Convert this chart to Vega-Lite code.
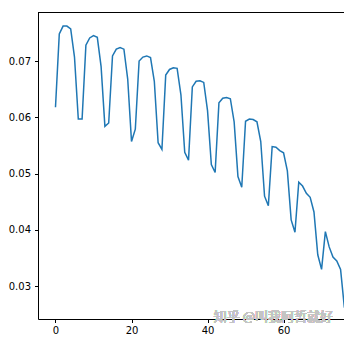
{
  "$schema": "https://vega.github.io/schema/vega-lite/v6.json",
  "width": 306,
  "height": 307,
  "autosize": {"type": "none"},
  "padding": {"left": 38, "top": 12, "right": 0, "bottom": 19},
  "background": "white",
  "config": {
    "view": {"stroke": null},
    "axis": {
      "grid": false,
      "domainColor": "#000000",
      "domainWidth": 1,
      "tickColor": "#000000",
      "tickSize": 3.5,
      "tickWidth": 1,
      "labelFont": "DejaVu Sans",
      "labelFontSize": 10,
      "labelColor": "#000000",
      "title": null
    }
  },
  "data": {
    "values": [
      {"step": 0, "value": 0.0618}, {"step": 1, "value": 0.0748}, {"step": 2, "value": 0.0762}, {"step": 3, "value": 0.0762},
      {"step": 4, "value": 0.0757}, {"step": 5, "value": 0.0707}, {"step": 6, "value": 0.0597}, {"step": 7, "value": 0.0597},
      {"step": 8, "value": 0.0728}, {"step": 9, "value": 0.0741}, {"step": 10, "value": 0.0745}, {"step": 11, "value": 0.0742},
      {"step": 12, "value": 0.0690}, {"step": 13, "value": 0.0584}, {"step": 14, "value": 0.0590}, {"step": 15, "value": 0.0709},
      {"step": 16, "value": 0.0721}, {"step": 17, "value": 0.0724}, {"step": 18, "value": 0.0721}, {"step": 19, "value": 0.0668},
      {"step": 20, "value": 0.0557}, {"step": 21, "value": 0.0579}, {"step": 22, "value": 0.0700}, {"step": 23, "value": 0.0707},
      {"step": 24, "value": 0.0709}, {"step": 25, "value": 0.0706}, {"step": 26, "value": 0.0664}, {"step": 27, "value": 0.0555},
      {"step": 28, "value": 0.0543}, {"step": 29, "value": 0.0675}, {"step": 30, "value": 0.0685}, {"step": 31, "value": 0.0688},
      {"step": 32, "value": 0.0687}, {"step": 33, "value": 0.0640}, {"step": 34, "value": 0.0538}, {"step": 35, "value": 0.0524},
      {"step": 36, "value": 0.0654}, {"step": 37, "value": 0.0664}, {"step": 38, "value": 0.0665}, {"step": 39, "value": 0.0662},
      {"step": 40, "value": 0.0612}, {"step": 41, "value": 0.0516}, {"step": 42, "value": 0.0502}, {"step": 43, "value": 0.0626},
      {"step": 44, "value": 0.0634}, {"step": 45, "value": 0.0635}, {"step": 46, "value": 0.0633}, {"step": 47, "value": 0.0592},
      {"step": 48, "value": 0.0495}, {"step": 49, "value": 0.0476}, {"step": 50, "value": 0.0593}, {"step": 51, "value": 0.0597},
      {"step": 52, "value": 0.0596}, {"step": 53, "value": 0.0592}, {"step": 54, "value": 0.0557}, {"step": 55, "value": 0.0460},
      {"step": 56, "value": 0.0443}, {"step": 57, "value": 0.0548}, {"step": 58, "value": 0.0547}, {"step": 59, "value": 0.0541},
      {"step": 60, "value": 0.0537}, {"step": 61, "value": 0.0505}, {"step": 62, "value": 0.0418}, {"step": 63, "value": 0.0396},
      {"step": 64, "value": 0.0485}, {"step": 65, "value": 0.0478}, {"step": 66, "value": 0.0465}, {"step": 67, "value": 0.0458},
      {"step": 68, "value": 0.0432}, {"step": 69, "value": 0.0356}, {"step": 70, "value": 0.0330}, {"step": 71, "value": 0.0397},
      {"step": 72, "value": 0.0370}, {"step": 73, "value": 0.0352}, {"step": 74, "value": 0.0345}, {"step": 75, "value": 0.0330},
      {"step": 76, "value": 0.0262}
    ]
  },
  "layer": [
    {
      "mark": {"type": "line", "color": "#1f77b4", "strokeWidth": 1.5, "clip": true},
      "encoding": {
        "x": {
          "field": "step", "type": "quantitative",
          "scale": {"domain": [-4.6, 75.9], "nice": false, "zero": false},
          "axis": {"values": [0, 20, 40, 60], "orient": "bottom", "labelPadding": 3}
        },
        "y": {
          "field": "value", "type": "quantitative",
          "scale": {"domain": [0.0242, 0.0787], "nice": false, "zero": false},
          "axis": {"values": [0.03, 0.04, 0.05, 0.06, 0.07], "format": ".2f", "labelPadding": 4}
        }
      }
    },
    {
      "mark": {"type": "rule", "color": "#000000", "strokeWidth": 1},
      "encoding": {
        "y": {"datum": 0.07861}
      }
    },
    {
      "mark": {"type": "text", "align": "right", "baseline": "middle", "font": "Noto Sans CJK SC", "fontSize": 13, "color": "#c4c4c4", "opacity": 0.85},
      "encoding": {
        "x": {"datum": 73},
        "y": {"datum": 0.0246},
        "text": {"value": "知乎 @叫我阿哲就好"}
      }
    }
  ]
}
